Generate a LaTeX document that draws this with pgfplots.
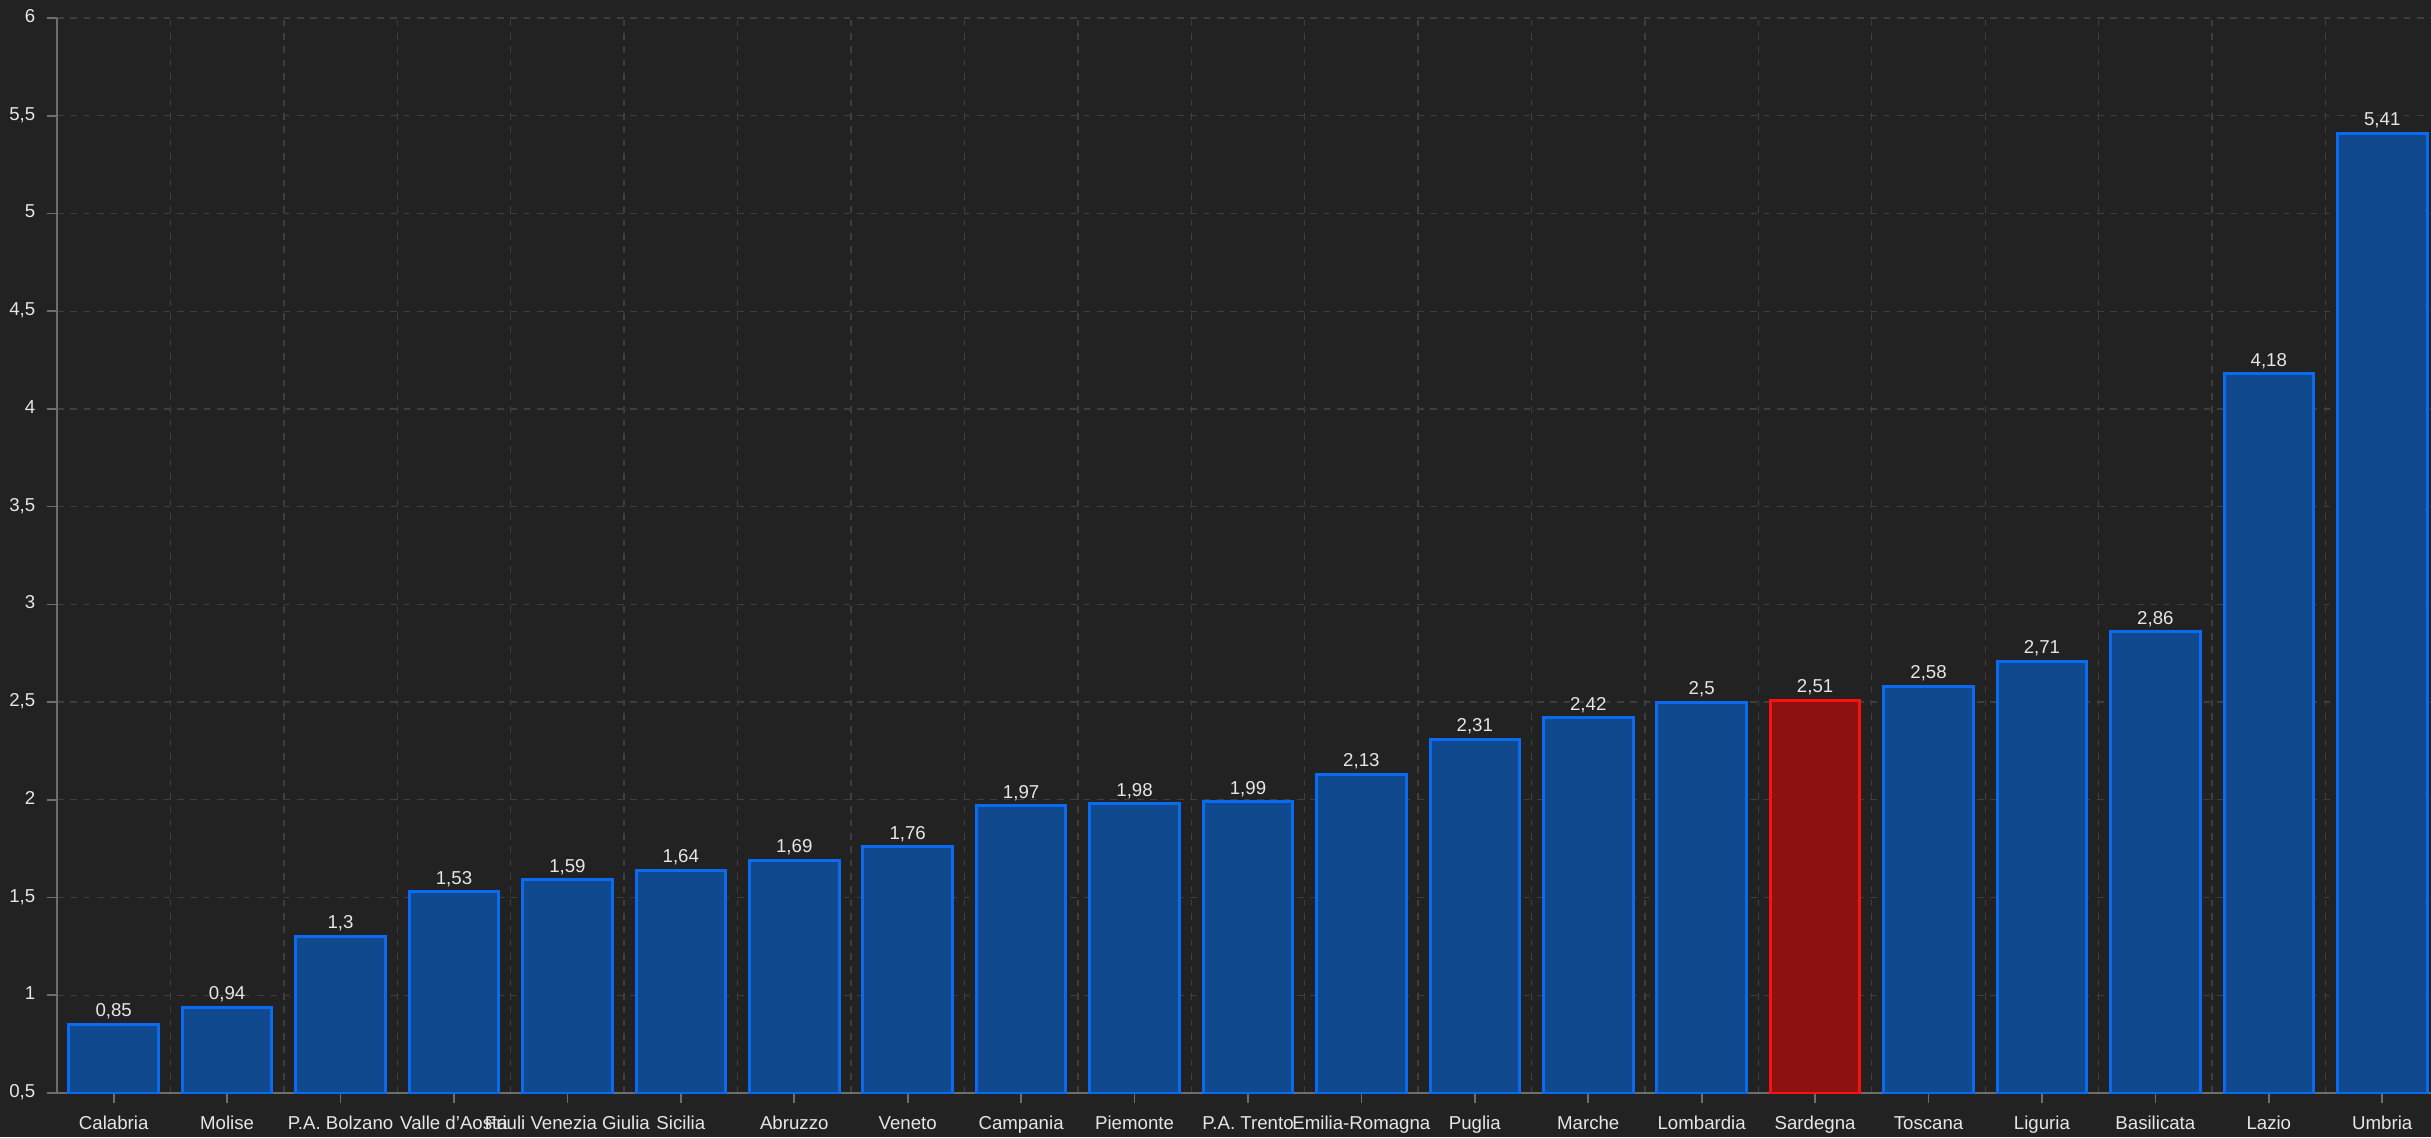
\documentclass[border=0pt]{standalone}
\usepackage{fontspec}
\setmainfont{Liberation Sans}
\usepackage{pgfplots}
\pgfplotsset{compat=1.18}
\definecolor{bg}{HTML}{222222}
\definecolor{barfill}{HTML}{11498F}
\definecolor{baredge}{HTML}{0B6BF0}
\definecolor{redfill}{HTML}{8E1111}
\definecolor{rededge}{HTML}{FF1010}
\definecolor{gridc}{HTML}{3E3E3E}
\definecolor{axisc}{HTML}{6E6E6E}
\definecolor{txt}{HTML}{E6E6E6}

\begin{document}
\begin{tikzpicture}
\fill[bg] (0,0) rectangle (729.3pt,341.1pt);
\useasboundingbox (0,0) rectangle (729.3pt,341.1pt);
\begin{axis}[
    at={(17.1pt,13.2pt)}, anchor=south west,
    scale only axis,
    width=712.2pt, height=322.5pt,
    xmin=-0.5, xmax=20.43,
    ymin=0.5, ymax=6,
    ytick={0.5,1,...,6},
    xtick={0,1,...,20},
    xticklabels={Calabria,Molise,P.A. Bolzano,Valle d'Aosta,Friuli Venezia Giulia,Sicilia,Abruzzo,Veneto,Campania,Piemonte,P.A. Trento,Emilia-Romagna,Puglia,Marche,Lombardia,Sardegna,Toscana,Liguria,Basilicata,Lazio,Umbria},
    typeset ticklabels with strut,
    minor xtick={0.5,1.5,...,19.5},
    axis x line*=bottom, axis y line*=left,
    axis line style={axisc, line width=0.6pt, -},
    tick style={axisc, line width=0.5pt},
    major tick length=3pt,
    tick align=outside,
    minor tick length=0pt,
    ymajorgrids, xminorgrids,
    major grid style={gridc, dash pattern=on 2pt off 2pt, line width=0.4pt},
    minor grid style={gridc, dash pattern=on 2pt off 2pt, line width=0.4pt},
    ticklabel style={font=\fontsize{5.6}{6.7}\selectfont, text=txt},
    xticklabel style={yshift=0.3pt},
    /pgf/number format/.cd, use comma, 1000 sep={}, assume math mode=true,
    /pgfplots/.cd,
    ybar, bar width=0.79, /pgf/bar shift=0pt,
    nodes near coords,
    nodes near coords style={font=\fontsize{5.6}{6.7}\selectfont, text=txt, yshift=-2.2pt},
    axis background/.style={fill=bg},
]
\addplot[draw=baredge, fill=barfill, line width=0.9pt] coordinates {
(0,0.85) (1,0.94) (2,1.3) (3,1.53) (4,1.59) (5,1.64) (6,1.69) (7,1.76)
(8,1.97) (9,1.98) (10,1.99) (11,2.13) (12,2.31) (13,2.42) (14,2.5)
(16,2.58) (17,2.71) (18,2.86) (19,4.18) (20,5.41)};
\addplot[draw=rededge, fill=redfill, line width=0.9pt] coordinates {(15,2.51)};
\end{axis}
\end{tikzpicture}
\end{document}
